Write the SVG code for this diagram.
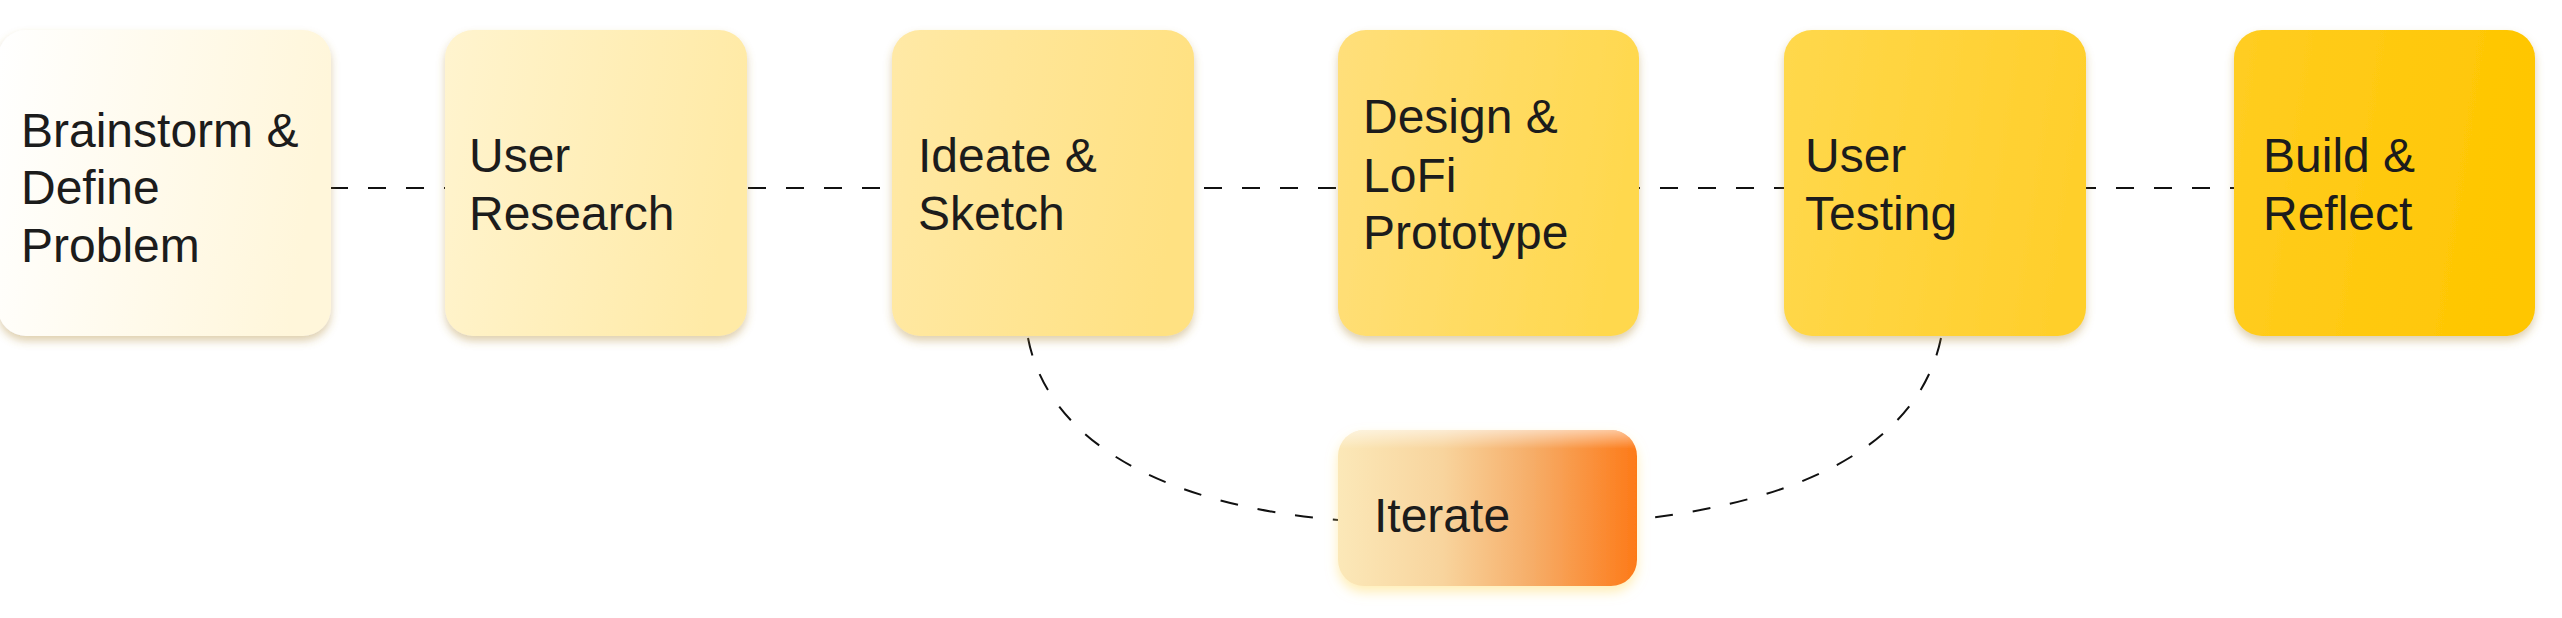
<svg xmlns="http://www.w3.org/2000/svg" width="2562" height="618" viewBox="0 0 2562 618">
<defs>
<style>
.lbl{font-family:"Liberation Sans",Arial,sans-serif;font-size:48px;fill:#1c1c1c}
.dash{fill:none;stroke:#111;stroke-width:2;stroke-dasharray:18 20}
</style>
<filter id="sh" x="-10%" y="-10%" width="120%" height="125%">
<feDropShadow dx="0" dy="5" stdDeviation="4" flood-color="#b08a3a" flood-opacity="0.4"/>
</filter>
<filter id="sh2" x="-10%" y="-15%" width="120%" height="140%">
<feDropShadow dx="0" dy="6" stdDeviation="6" flood-color="#ffe07a" flood-opacity="0.55"/>
</filter>
<linearGradient id="g1" x1="0" y1="0" x2="1" y2="0.15"><stop offset="0" stop-color="#ffffff"/><stop offset="1" stop-color="#fff6da"/></linearGradient>
<linearGradient id="g2" x1="0" y1="0" x2="1" y2="0.15"><stop offset="0" stop-color="#fff4cf"/><stop offset="1" stop-color="#ffeaa6"/></linearGradient>
<linearGradient id="g3" x1="0" y1="0" x2="1" y2="0.15"><stop offset="0" stop-color="#ffe9a6"/><stop offset="1" stop-color="#ffe182"/></linearGradient>
<linearGradient id="g4" x1="0" y1="0" x2="1" y2="0.15"><stop offset="0" stop-color="#ffdf7b"/><stop offset="1" stop-color="#ffd84e"/></linearGradient>
<linearGradient id="g5" x1="0" y1="0" x2="1" y2="0.15"><stop offset="0" stop-color="#ffd84c"/><stop offset="1" stop-color="#ffcf2c"/></linearGradient>
<linearGradient id="g6" x1="0" y1="0" x2="1" y2="0.15"><stop offset="0" stop-color="#ffcd22"/><stop offset="1" stop-color="#ffc600"/></linearGradient>
<linearGradient id="gi" x1="0" y1="0" x2="1" y2="0"><stop offset="0" stop-color="#fbe8b8"/><stop offset="0.35" stop-color="#f8d49d"/><stop offset="0.65" stop-color="#f6ad68"/><stop offset="1" stop-color="#fd7a18"/></linearGradient>
<linearGradient id="gw" x1="0" y1="0" x2="0" y2="1"><stop offset="0" stop-color="#ffffff" stop-opacity="0.55"/><stop offset="0.12" stop-color="#ffffff" stop-opacity="0"/></linearGradient>
</defs>
<g id="connectors">
<line class="dash" x1="330" y1="188" x2="2236" y2="188"/>
<path class="dash" d="M1028 338 C1048 440 1160 505 1338 520"/>
<path class="dash" d="M1941 338 C1920 440 1810 500 1640 519"/>
</g>
<g id="n1"><rect x="-2" y="30" width="333" height="306" rx="28" fill="url(#g1)" filter="url(#sh)"/>
<text class="lbl" x="21" y="147">Brainstorm &amp;</text><text class="lbl" x="21" y="204">Define</text><text class="lbl" x="21" y="262">Problem</text></g>
<g id="n2"><rect x="445" y="30" width="302" height="306" rx="28" fill="url(#g2)" filter="url(#sh)"/>
<text class="lbl" x="469" y="172">User</text><text class="lbl" x="469" y="230">Research</text></g>
<g id="n3"><rect x="892" y="30" width="302" height="306" rx="28" fill="url(#g3)" filter="url(#sh)"/>
<text class="lbl" x="918" y="172">Ideate &amp;</text><text class="lbl" x="918" y="230">Sketch</text></g>
<g id="n4"><rect x="1338" y="30" width="301" height="306" rx="28" fill="url(#g4)" filter="url(#sh)"/>
<text class="lbl" x="1363" y="133">Design &amp;</text><text class="lbl" x="1363" y="192">LoFi</text><text class="lbl" x="1363" y="249">Prototype</text></g>
<g id="n5"><rect x="1784" y="30" width="302" height="306" rx="28" fill="url(#g5)" filter="url(#sh)"/>
<text class="lbl" x="1805" y="172">User</text><text class="lbl" x="1805" y="230">Testing</text></g>
<g id="n6"><rect x="2234" y="30" width="301" height="306" rx="28" fill="url(#g6)" filter="url(#sh)"/>
<text class="lbl" x="2263" y="172">Build &amp;</text><text class="lbl" x="2263" y="230">Reflect</text></g>
<g id="n7"><rect x="1338" y="430" width="299" height="156" rx="26" fill="url(#gi)" filter="url(#sh2)"/>
<rect x="1338" y="430" width="299" height="156" rx="26" fill="url(#gw)"/>
<text class="lbl" x="1374" y="532">Iterate</text></g>
</svg>
